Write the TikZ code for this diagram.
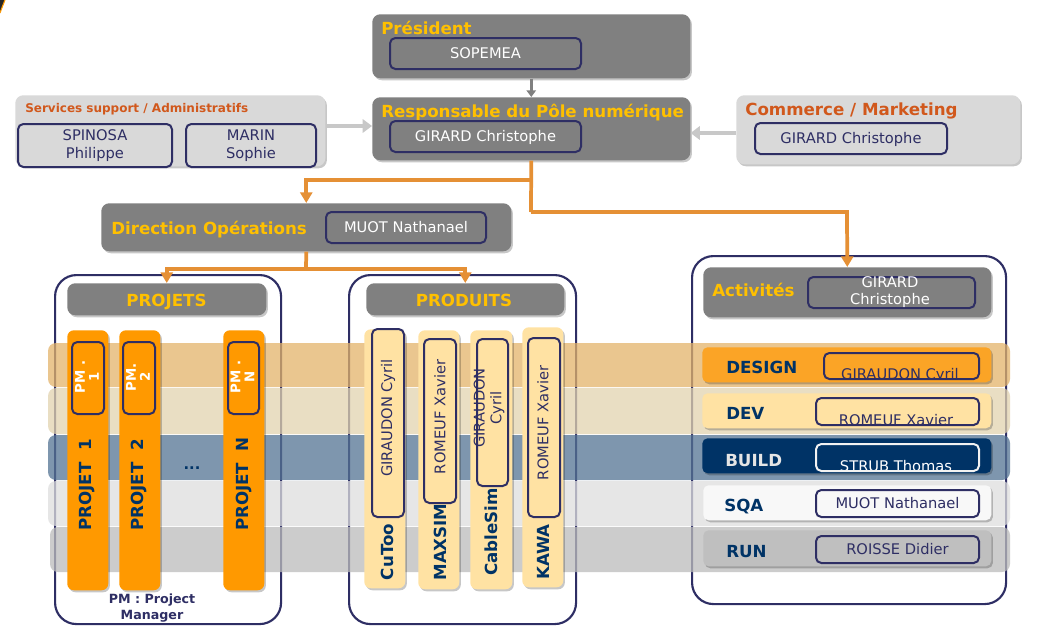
\documentclass[tikz,border=0pt]{standalone}
\usepackage{fontspec}
\setmainfont{DejaVu Sans}
\usetikzlibrary{arrows.meta,shadows}
\definecolor{boxgray}{RGB}{128,128,128}
\definecolor{ttlyellow}{RGB}{255,192,0}
\definecolor{ttlorange}{RGB}{209,88,28}
\definecolor{navyline}{RGB}{46,46,100}
\definecolor{navytxt}{RGB}{0,51,102}
\definecolor{lightbox}{RGB}{217,217,217}
\definecolor{arrowgray}{RGB}{200,200,200}
\definecolor{orangeline}{RGB}{229,144,53}
\definecolor{barorange}{RGB}{255,153,0}
\definecolor{baryellow}{RGB}{255,226,163}
\definecolor{rowdesign}{RGB}{251,164,38}
\definecolor{rowbuild}{RGB}{0,51,102}
\definecolor{rowsqa}{RGB}{248,248,248}
\definecolor{rowrun}{RGB}{191,191,191}
\definecolor{bandA}{RGB}{227,179,106}
\definecolor{bandB}{RGB}{226,211,176}
\definecolor{bandC}{RGB}{84,115,147}
\definecolor{bandD}{RGB}{222,222,222}
\definecolor{bandE}{RGB}{188,188,188}
\newcommand\bx[6]{\node[#6,anchor=north west,inner sep=0pt,minimum width={(#4-#2)*0.75pt},minimum height={(#5-#3)*0.75pt}] (#1) at (#2,#3) {};}
\begin{document}
\begin{tikzpicture}[x=0.75pt,y=-0.75pt,
  shad/.style={drop shadow={shadow xshift=1.2pt,shadow yshift=-1.5pt,opacity=0.22,fill=black}},
  graybox/.style={fill=boxgray,rounded corners=6pt,shad},
  lightgbox/.style={fill=lightbox,rounded corners=6pt,shad},
  innerbox/.style={draw=navyline,line width=1.5pt,rounded corners=4pt},
  frame/.style={draw=navyline,line width=1.6pt,rounded corners=16pt,fill=white},
  band/.style={rounded corners=6pt,fill opacity=0.75},
  bar/.style={rounded corners=5pt,shad},
  rowbox/.style={rounded corners=4pt,shad},
  ttl/.style={font=\bfseries\fontsize{12.5}{15}\selectfont,text=ttlyellow,inner sep=0pt},
  ttlsmall/.style={font=\bfseries\fontsize{9}{11}\selectfont,text=ttlorange,inner sep=0pt},
  nm/.style={font=\fontsize{11}{13.5}\selectfont,inner sep=0pt,align=center},
  capc/.style={text height=8pt,text depth=0pt},
  lbl/.style={font=\bfseries\fontsize{12.5}{15}\selectfont,text=navytxt,inner sep=0pt},
  pm/.style={font=\bfseries\fontsize{10}{10.5}\selectfont,text=white,inner sep=0pt,align=center,rotate=90},
  gconn/.style={draw=boxgray,line width=2.2pt,-{Triangle[width=7pt,length=5pt]}},
  lconn/.style={draw=arrowgray,line width=3.5pt,-{Triangle[width=10pt,length=7pt]}},
  oconn/.style={draw=orangeline,line width=2.8pt},
  otip/.style={oconn,-{Triangle[width=9pt,length=8pt]}}
]
\useasboundingbox[fill=white] (0,0) rectangle (1042,629);
% corner decoration
\fill[black!85] (0,0) -- (5,0) .. controls (3,5) and (1,10) .. (0,13) -- cycle;
\draw[barorange,line width=0.8pt] (5,0) .. controls (3,5) and (1,10) .. (0,13);

% ---------- top boxes ----------
\bx{pres}{372}{14}{690}{78}{graybox}
\node[ttl,anchor=base west] (presT) at (381,34) {Président};
\bx{presIn}{389}{37}{580}{68}{innerbox}
\node[nm,capc,text=white] at (presIn) {SOPEMEA};

\bx{resp}{372}{97}{690}{160}{graybox}
\node[ttl,anchor=base west] (respT) at (381,117) {Responsable du Pôle numérique};
\bx{respIn}{389}{120}{580}{151}{innerbox}
\node[nm,capc,text=white] at (respIn) {GIRARD Christophe};

\bx{serv}{15}{95}{325}{166}{lightgbox}
\node[ttlsmall,anchor=base west] (servT) at (25,112) {Services support / Administratifs};
\bx{spin}{17}{123}{171}{166}{innerbox}
\node[nm,text=navyline] at (spin) {SPINOSA\\Philippe};
\bx{marin}{185}{123}{315}{166}{innerbox}
\node[nm,text=navyline] at (marin) {MARIN\\Sophie};

\bx{comm}{736}{95}{1020}{164}{lightgbox}
\node[ttl,text=ttlorange,anchor=base west] (commT) at (745,115) {Commerce / Marketing};
\bx{commIn}{754}{122}{946}{153}{innerbox}
\node[nm,capc,text=navyline] at (commIn) {GIRARD Christophe};

\bx{dirop}{101}{203}{511}{251}{graybox}
\node[ttl,anchor=base west] (diropT) at (111,234) {Direction Opérations};
\bx{diropIn}{325}{211}{485}{242}{innerbox}
\node[nm,capc,text=white] at (diropIn) {MUOT Nathanael};

% ---------- frames ----------
\bx{projF}{54}{274}{280}{623}{frame}
\bx{prodF}{348}{274}{575}{623}{frame}
\bx{actF}{691}{255}{1005}{603}{frame}

\bx{projH}{67}{283}{266}{315}{graybox}
\node[ttl,anchor=base] at (166.5,306) {PROJETS};
\bx{prodH}{366}{283}{564}{315}{graybox}
\node[ttl,anchor=base] at (464,306) {PRODUITS};
\bx{actH}{703}{267}{991}{317}{graybox}
\node[ttl,anchor=base west] at (712,296) {Activités};
\bx{actHIn}{807}{276}{974}{307}{innerbox}
\node[nm,text=white,font=\fontsize{11}{13.2}\selectfont] at (890,292) {GIRARD\\Christophe};

% ---------- bands ----------
\fill[band,bandA] (48,343) rectangle (1010,387);
\fill[band,bandB] (48,388) rectangle (1010,434);
\fill[band,bandC] (48,435) rectangle (1010,480);
\fill[band,bandD] (48,481) rectangle (1010,526);
\fill[band,bandE] (50,527) rectangle (1010,572);

% ---------- projets ----------
\bx{p1}{67}{330}{108}{590}{bar,fill=barorange}
\bx{pm1}{71}{341}{103}{413}{innerbox}
\node[pm] at (87,377) {PM .\\1};
\node[lbl,rotate=90] at (87,485) {PROJET\ \ 1};
\bx{p2}{119}{330}{160}{590}{bar,fill=barorange}
\bx{pm2}{122}{341}{154}{413}{innerbox}
\node[pm] at (138,377) {PM.\\2};
\node[lbl,rotate=90] at (139,485) {PROJET\ \ 2};
\bx{pn}{223}{330}{264}{590}{bar,fill=barorange}
\bx{pmn}{227}{341}{258}{413}{innerbox}
\node[pm] at (242.5,377) {PM .\\N};
\node[lbl,rotate=90] at (243.5,484) {PROJET\ \ N};
\node[lbl,font=\bfseries\fontsize{11}{13}\selectfont] (dots) at (192,468) {...};
\node[font=\bfseries\fontsize{9.5}{12.5}\selectfont,text=navyline,align=center,inner sep=0pt] (pmnote) at (152,608) {PM : Project\\Manager};

% ---------- produits ----------
\bx{cutoo}{364}{329}{405}{588}{bar,fill=baryellow}
\bx{cutooIn}{371}{328}{403}{516}{innerbox}
\node[nm,text=navyline,rotate=90] at (388,418) {GIRAUDON Cyril};
\node[lbl,rotate=90] at (387,552) {CuToo};
\bx{maxsim}{418}{330}{459}{589}{bar,fill=baryellow}
\bx{maxsimIn}{423}{338}{455}{502}{innerbox}
\node[nm,text=navyline,rotate=90] at (440,417) {ROMEUF Xavier};
\node[lbl,rotate=90] at (440,542) {MAXSIM};
\bx{cable}{470}{330}{512}{589}{bar,fill=baryellow}
\bx{cableIn}{476}{338}{507}{485}{innerbox}
\node[nm,text=navyline,rotate=90,font=\fontsize{11}{12.5}\selectfont] at (489,408) {GIRAUDON\\Cyril};
\node[lbl,rotate=90] at (491,532) {CableSim};
\bx{kawa}{522}{327}{563}{587}{bar,fill=baryellow}
\bx{kawaIn}{527}{337}{559}{516}{innerbox}
\node[nm,text=navyline,rotate=90] at (543,423) {ROMEUF Xavier};
\node[lbl,rotate=90] at (543,552) {KAWA};

% ---------- activites rows ----------
\bx{design}{702}{347}{991}{382}{rowbox,fill=rowdesign}
\node[lbl,anchor=base west] at (726,373) {DESIGN};
\begin{scope}
\clip[rounded corners=4pt] (823,352) rectangle (978,378);
\node[nm,text=navyline,anchor=base] at (900,379) {GIRAUDON Cyril};
\end{scope}
\bx{designIn}{823}{352}{978}{378}{innerbox}

\bx{dev}{702}{393}{991}{428}{rowbox,fill=baryellow}
\node[lbl,anchor=base west] at (726,419) {DEV};
\begin{scope}
\clip[rounded corners=4pt] (815,397) rectangle (978,424);
\node[nm,text=navyline,anchor=base] at (896,425) {ROMEUF Xavier};
\end{scope}
\bx{devIn}{815}{397}{978}{424}{innerbox}

\bx{build}{702}{438}{991}{473}{rowbox,fill=rowbuild}
\node[lbl,text=black!10,anchor=base west] at (725,466) {BUILD};
\begin{scope}
\clip[rounded corners=4pt] (815,443) rectangle (978,470);
\node[nm,text=white,anchor=base] at (896,471) {STRUB Thomas};
\end{scope}
\bx{buildIn}{815}{443}{978}{470}{innerbox,draw=white!95!black}

\bx{sqa}{703}{485}{991}{520}{rowbox,fill=rowsqa}
\node[lbl,anchor=base west] at (724,511) {SQA};
\bx{sqaIn}{815}{489}{978}{516}{innerbox}
\node[nm,capc,text=navyline] at (sqaIn) {MUOT Nathanael};

\bx{run}{703}{530}{991}{566}{rowbox,fill=rowrun}
\node[lbl,anchor=base west] at (726,557) {RUN};
\bx{runIn}{815}{535}{978}{562}{innerbox}
\node[nm,capc,text=navyline] at (runIn) {ROISSE Didier};

% ---------- connectors ----------
\draw[gconn] (pres.south) -- (resp.north);
\draw[lconn] (serv.east |- 0,126) -- (resp.west |- 0,126);
\draw[lconn] (comm.west |- 0,133) -- (resp.east |- 0,133);

\coordinate (j1) at (531,180);
\coordinate (j2) at (531,212);
\coordinate (j3) at (847,212);
\coordinate (j4) at (306,269);
\draw[oconn] (resp.south) -- (j2);
\draw[otip] (j2) -- (j3) -- (actH.north);
\draw[otip] (j1) -- (j1 -| dirop.north) -- (dirop.north);
\draw[oconn] (dirop.south) -- (j4);
\draw[otip] (j4) -- (j4 -| projH.north) -- (projH.north);
\draw[otip] (j4) -- (j4 -| prodH.north) -- (prodH.north);
\end{tikzpicture}
\end{document}
